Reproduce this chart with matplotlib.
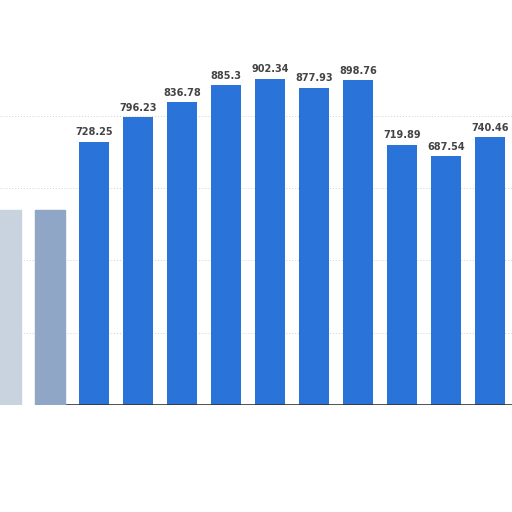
import matplotlib
matplotlib.use("Agg")
import matplotlib.pyplot as plt

# values (first two bars are blurred in the reference)
values = [538.0, 540.0, 728.25, 796.23, 836.78, 885.3, 902.34,
          877.93, 898.76, 719.89, 687.54, 740.46]
labels = ["", "", "728.25", "796.23", "836.78", "885.3", "902.34",
          "877.93", "898.76", "719.89", "687.54", "740.46"]
gridlines = [200, 400, 600, 800]

BLUE = "#2a74d9"


def main():
    fig = plt.figure(figsize=(5.12, 5.12), dpi=100)
    ax = fig.add_axes([0, 107 / 512, 1, 405 / 512])

    x = list(range(len(values)))
    colors = [BLUE] * len(values)
    bars = ax.bar(x, values, width=0.68, color=colors, zorder=2)
    # the first two bars are faded out in the reference
    bars[0].set_color("#c9d3df")
    bars[1].set_color("#8fa6c6")

    for g in gridlines:
        ax.axhline(g, color="#d0d0d0", lw=0.7, ls=(0, (1, 2)), zorder=1)
    ax.axhline(0, color="#333333", lw=1.2, zorder=3, xmin=0.13)

    for xi, v, lab in zip(x, values, labels):
        if lab:
            ax.text(xi, v + 12, lab, ha="center", va="bottom",
                    fontsize=7, fontweight="bold", color="#444444")

    ax.set_xlim(-6 / 44, 11.5)
    ax.set_ylim(0, 1120)
    ax.axis("off")

    fig.savefig("out.png", dpi=100, facecolor="white")


if __name__ == "__main__":
    main()
